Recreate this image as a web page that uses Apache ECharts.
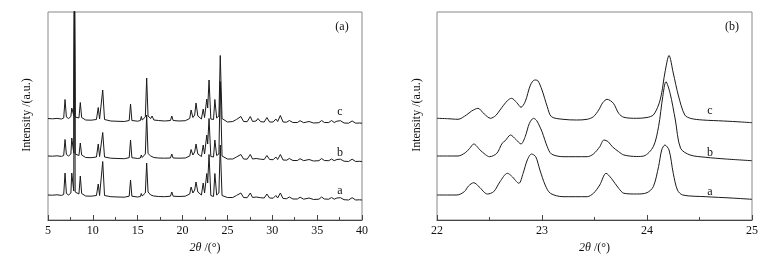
<!DOCTYPE html>
<html>
<head>
<meta charset="utf-8">
<script src="https://cdn.jsdelivr.net/npm/echarts@6/dist/echarts.min.js"></script>
<style>
  html, body { margin: 0; padding: 0; background: #fff; }
  #xrd { width: 782px; height: 261px; }
</style>
</head>
<body>
<div id="xrd"></div>
<script>
// 2θ 取样点 (图 a, 5~40°)
var thetaA = [5.0, 5.5, 6.0, 6.5, 6.75, 6.9, 7.05, 7.3, 7.55, 7.65, 7.87, 7.95, 8.03, 8.45, 8.6, 8.75, 9.2, 9.8, 10.4, 10.6,
  10.75, 10.95, 11.1, 11.3, 12.0, 12.8, 13.5, 14.05, 14.2, 14.35, 15.0, 15.3, 15.4, 15.5, 15.85, 16.0, 16.15, 16.3, 16.45, 16.6,
  16.8, 17.0, 17.3, 18.0, 18.65, 18.8, 18.95, 19.6, 20.3, 20.8, 20.95, 21.15, 21.35, 21.5, 21.7, 22.1, 22.3, 22.45, 22.7, 22.8,
  22.95, 23.15, 23.45, 23.6, 23.8, 24.05, 24.2, 24.4, 25.0, 25.6, 26.0, 26.2, 26.5, 26.8, 27.2, 27.55, 27.8, 28.0, 28.2, 28.4,
  28.7, 29.1, 29.4, 29.7, 30.1, 30.4, 30.6, 30.9, 31.2, 31.6, 31.9, 32.3, 32.8, 33.1, 33.5, 34.1, 34.6, 35.2, 35.5, 35.8,
  36.0, 36.3, 36.6, 36.9, 37.2, 37.6, 38.0, 38.5, 38.9, 39.3, 39.7, 40.0];

// 强度 (a.u., 已叠加偏移)
var curveA_a = [25.0, 24.8, 25.2, 24.6, 25.5, 47.0, 26.5, 25.0, 27.0, 47.0, 29.0, 260, 28.0, 26.0, 44.0, 26.5, 24.0, 23.8, 24.5, 36.0,
  24.5, 25.5, 58.5, 24.5, 23.3, 23.0, 22.8, 23.8, 40.0, 23.8, 23.0, 23.5, 26.5, 24.0, 27.0, 57.0, 28.0, 29.0, 25.0, 27.0,
  24.0, 25.0, 23.5, 23.3, 23.8, 28.0, 23.8, 23.5, 23.8, 26.0, 33.0, 27.0, 30.0, 38.0, 28.0, 25.0, 37.0, 27.0, 46.5, 37.0,
  65.5, 24.5, 23.5, 46.5, 25.0, 27.0, 75.0, 24.5, 22.5, 22.5, 24.5, 22.8, 27.0, 22.5, 22.3, 27.0, 22.5, 24.5, 23.0, 25.0,
  22.3, 22.0, 26.0, 22.0, 21.8, 24.5, 22.0, 27.0, 21.5, 21.3, 23.0, 21.0, 21.0, 22.8, 20.8, 22.0, 20.5, 20.8, 23.0, 21.0,
  22.5, 20.8, 22.5, 20.8, 22.0, 22.3, 20.3, 20.0, 22.3, 20.0, 20.2, 20.0];
var curveA_b = [64.0, 63.8, 64.2, 63.6, 64.5, 80.5, 65.5, 64.0, 66.0, 82.0, 67.0, 260, 66.0, 64.5, 77.0, 65.0, 62.5, 62.3, 63.0, 76.0,
  63.5, 64.5, 87.5, 63.0, 61.8, 61.5, 61.3, 62.3, 80.0, 62.3, 61.5, 62.0, 65.0, 62.5, 66.0, 105.0, 66.5, 68.0, 64.0, 66.0,
  62.5, 63.5, 62.0, 61.8, 62.0, 66.0, 62.0, 61.8, 62.0, 64.0, 70.5, 65.0, 68.0, 76.0, 66.0, 63.5, 75.0, 66.0, 85.0, 76.0,
  101.5, 63.5, 63.0, 80.0, 64.5, 66.0, 138.5, 64.0, 61.0, 61.0, 63.0, 61.3, 65.5, 61.0, 60.8, 65.5, 61.0, 63.0, 61.5, 63.5,
  60.8, 60.5, 64.5, 60.5, 60.3, 63.0, 60.5, 65.5, 60.0, 59.8, 61.5, 59.5, 59.5, 61.3, 59.3, 60.5, 59.0, 59.3, 61.5, 59.5,
  61.0, 59.3, 61.0, 59.3, 60.5, 60.8, 58.8, 58.5, 60.8, 58.5, 58.7, 58.5];
var curveA_c = [101.5, 101.2, 101.6, 101.0, 102.0, 120.5, 103.0, 101.5, 103.5, 112.0, 104.5, 260, 103.0, 102.0, 117.5, 102.5, 100.0, 99.8, 100.5, 112.5,
  101.0, 102.0, 130.0, 100.5, 99.0, 98.7, 98.5, 99.5, 116.0, 99.5, 98.8, 99.5, 103.5, 100.0, 103.0, 142.0, 104.0, 106.0, 101.5, 104.0,
  100.0, 101.5, 99.5, 99.0, 99.5, 104.0, 99.5, 99.0, 99.3, 101.5, 110.0, 102.5, 105.0, 117.0, 104.0, 101.0, 111.0, 102.5, 121.0, 112.0,
  140.0, 101.0, 100.5, 120.5, 102.0, 104.0, 164.5, 101.5, 98.0, 98.5, 100.5, 98.8, 103.5, 98.5, 98.3, 103.5, 98.5, 100.5, 99.0, 101.5,
  98.3, 98.0, 102.5, 98.0, 98.0, 101.0, 98.5, 104.5, 98.0, 97.8, 99.5, 97.5, 97.5, 99.3, 97.3, 98.5, 97.0, 97.3, 99.5, 97.5,
  99.0, 97.5, 99.5, 97.5, 98.8, 99.3, 97.0, 96.8, 99.0, 96.8, 97.0, 96.8];

// 图 b 局部放大 (22~25°), [2θ, 强度]
var curveB_a = [[22.0,25],[22.1,25],[22.19,25],[22.26,28.3],[22.3,34],[22.35,37.3],[22.4,33.3],[22.48,26],[22.54,28.3],[22.6,38.3],
  [22.67,46.7],[22.71,44],[22.78,36.7],[22.82,46.7],[22.86,60],[22.9,66],[22.94,63.3],[22.98,50],[23.03,35],[23.08,26.7],
  [23.2,23.3],[23.43,23.3],[23.49,26.7],[23.55,35],[23.61,46.7],[23.66,41.7],[23.73,31.7],[23.78,26.7],[23.9,26],[24.0,27.3],
  [24.06,33.3],[24.11,53.3],[24.14,70],[24.17,75],[24.21,70],[24.25,46.7],[24.29,30],[24.34,25],[24.56,23.3],[24.8,22],[25.0,20.7]];
var curveB_b = [[22.0,64],[22.1,64],[22.2,64],[22.27,67.3],[22.31,71.5],[22.35,76],[22.41,70],[22.46,65.5],[22.5,63.3],[22.57,66.7],
  [22.62,76.7],[22.65,79.3],[22.7,85],[22.75,80.7],[22.8,76],[22.84,83.3],[22.88,96.7],[22.92,101.7],[22.95,99.3],[23.0,88.3],
  [23.05,73.3],[23.09,66],[23.2,63.3],[23.43,63.3],[23.49,66],[23.55,73.3],[23.59,80],[23.63,78.3],[23.67,73.3],[23.73,68.3],
  [23.78,65],[23.9,63.5],[23.97,64],[24.06,73.3],[24.11,93.3],[24.15,123.3],[24.18,138.3],[24.22,126.7],[24.27,100],[24.32,71.7],
  [24.41,65],[24.56,62.7],[24.75,61],[25.0,59.3]];
var curveB_c = [[22.0,101.7],[22.1,101.3],[22.2,100.7],[22.28,105],[22.33,109],[22.39,111.7],[22.45,106],[22.51,101.7],[22.56,104.5],[22.6,110],
  [22.67,119.3],[22.71,121.7],[22.76,117.3],[22.8,112.7],[22.84,118.3],[22.89,135],[22.93,140],[22.96,139.3],[23.0,130],[23.05,113.3],
  [23.09,103.3],[23.2,100.7],[23.33,100],[23.43,100.7],[23.49,103.3],[23.54,110],[23.58,117.5],[23.62,120.7],[23.68,116.7],[23.73,106.7],
  [23.78,102.7],[23.9,101.7],[24.0,102.5],[24.06,105],[24.11,115],[24.14,127],[24.17,147],[24.21,164.5],[24.25,147],[24.3,124],
  [24.36,105],[24.42,101.5],[24.53,100],[24.73,99],[24.9,98],[25.0,97.3]];

var ticksA = [5, 10, 15, 20, 25, 30, 35, 40];
var ticksB = [22, 23, 24, 25];

(function() {
    var font = '"Liberation Serif", "DejaVu Serif", serif';
    var lineColor = '#1a1a1a';

    function zip(xs, ys) {
        return xs.map(function(x, i) { return [x, ys[i]]; });
    }

    function xAxis(idx, ticks, minor) {
        return {
            type: 'value',
            gridIndex: idx,
            min: ticks[0],
            max: ticks[ticks.length - 1],
            interval: ticks[1] - ticks[0],
            name: '{i|2θ} /(°)',
            nameLocation: 'middle',
            nameGap: 20,
            nameTextStyle: {
                fontFamily: font, fontSize: 12, color: '#111',
                rich: { i: { fontFamily: font, fontSize: 12, fontStyle: 'italic', color: '#111' } }
            },
            axisLine: { lineStyle: { color: '#444', width: 1 } },
            axisTick: { inside: true, length: 5, lineStyle: { color: '#444' } },
            minorTick: { show: true, splitNumber: minor, length: 3, lineStyle: { color: '#444' } },
            axisLabel: { margin: 5, fontFamily: font, fontSize: 12, color: '#111' },
            splitLine: { show: false }
        };
    }

    function yAxis(idx) {
        return { type: 'value', gridIndex: idx, min: 0, max: 208, show: false };
    }

    function line(name, idx, data, smooth) {
        return {
            name: name,
            type: 'line',
            xAxisIndex: idx,
            yAxisIndex: idx,
            data: data,
            symbol: 'none',
            smooth: smooth,
            clip: true,
            lineStyle: { color: lineColor, width: 1 }
        };
    }

    function txt(x, y, s, rot) {
        return {
            type: 'text', x: x, y: y, rotation: rot || 0,
            style: { text: s, fontFamily: font, fontSize: 12, fill: '#111', textAlign: 'center', textVerticalAlign: 'middle' }
        };
    }

    var myChart = echarts.init(document.getElementById('xrd'));

    var option = {
        animation: false,
        grid: [
            { left: 48, top: 12, width: 314, height: 208, show: true, borderColor: '#888', borderWidth: 1 },
            { left: 437, top: 12, width: 315, height: 208, show: true, borderColor: '#888', borderWidth: 1 }
        ],
        xAxis: [xAxis(0, ticksA, 2), xAxis(1, ticksB, 2)],
        yAxis: [yAxis(0), yAxis(1)],
        series: [
            line('a', 0, zip(thetaA, curveA_a), false),
            line('b', 0, zip(thetaA, curveA_b), false),
            line('c', 0, zip(thetaA, curveA_c), false),
            line('a', 1, curveB_a, 0.3),
            line('b', 1, curveB_b, 0.3),
            line('c', 1, curveB_c, 0.3)
        ],
        graphic: [
            txt(27, 115, 'Intensity /(a.u.)', Math.PI / 2),
            txt(417, 115, 'Intensity /(a.u.)', Math.PI / 2),
            txt(342, 27, '(a)'),
            txt(732, 27, '(b)'),
            txt(340, 112, 'c'),
            txt(340, 153, 'b'),
            txt(340, 191, 'a'),
            txt(710, 111, 'c'),
            txt(710, 153, 'b'),
            txt(710, 192, 'a')
        ]
    };

    myChart.setOption(option);
})();
</script>
</body>
</html>
